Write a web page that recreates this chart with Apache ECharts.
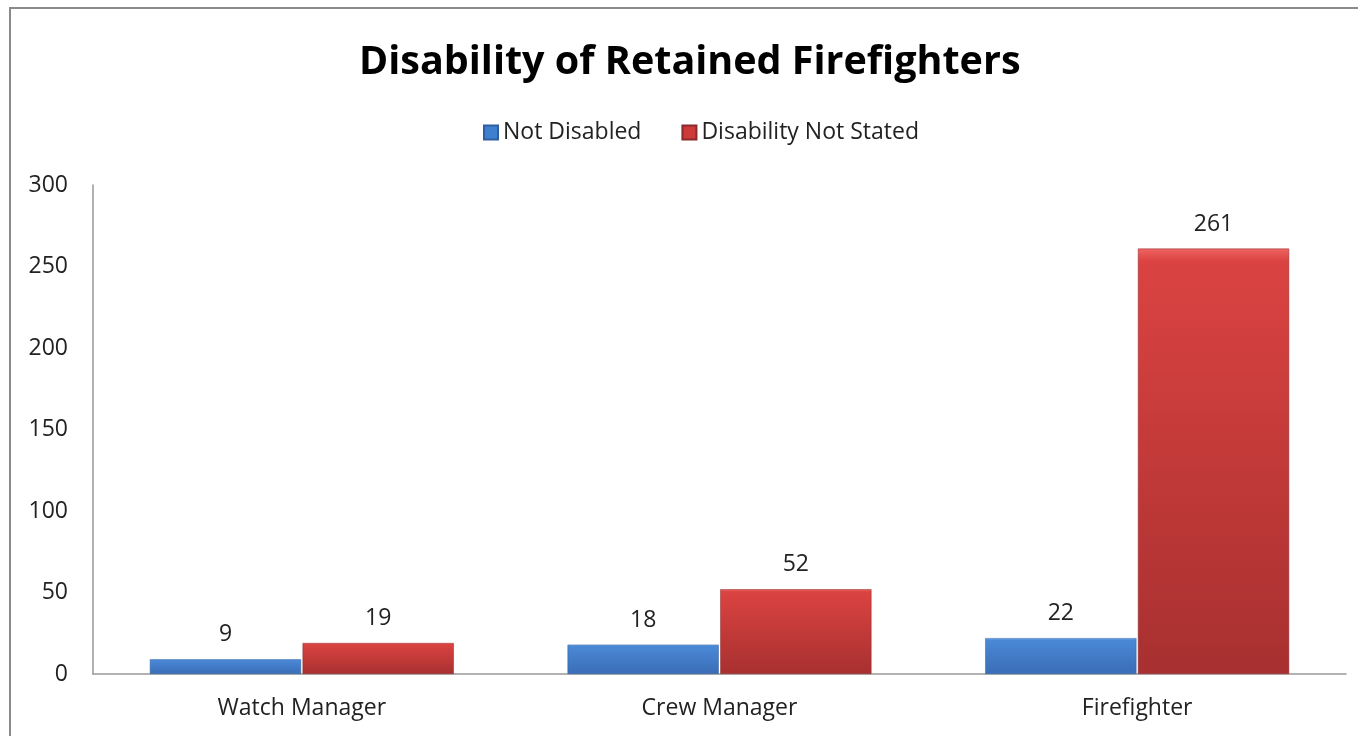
<!DOCTYPE html>
<html>
<head>
<meta charset="utf-8">
<script src="https://cdn.jsdelivr.net/npm/echarts@6/dist/echarts.min.js"></script>
<style>html,body{margin:0;padding:0;background:#fff;}#c{width:1358px;height:736px;}</style>
</head>
<body>
<div id="c"></div>
<script>
const categories = ['Watch Manager', 'Crew Manager', 'Firefighter'];
const notDisabled = [9, 18, 22];
const notStated = [19, 52, 261];
const seriesNames = ['Not Disabled', 'Disability Not Stated'];
const yTicks = [0, 50, 100, 150, 200, 250, 300];

const chart = echarts.init(document.getElementById('c'));
const blue = new echarts.graphic.LinearGradient(0, 0, 0, 1, [
  {offset: 0, color: '#6aa8ee'}, {offset: 0.06, color: '#4a88d6'}, {offset: 1, color: '#3a6db5'}]);
const red = new echarts.graphic.LinearGradient(0, 0, 0, 1, [
  {offset: 0, color: '#f06462'}, {offset: 0.03, color: '#da4341'}, {offset: 1, color: '#a83030'}]);
const labelStyle = {show: true, position: 'top', distance: 13, color: '#222', fontSize: 23, fontFamily: 'Open Sans'};
chart.setOption({
  animation: false,
  title: {text: 'Disability of Retained Firefighters', left: 354, top: 38,
    textStyle: {fontSize: 39.5, fontWeight: 'bold', color: '#000', fontFamily: 'Open Sans'}},
  legend: {top: 116, left: 478, itemWidth: 14, itemHeight: 14, itemGap: 40,
    textStyle: {fontSize: 23, color: '#222', fontFamily: 'Open Sans'},
    data: [{name: seriesNames[0], icon: 'rect', itemStyle: {color: '#3f7fd0'}},
           {name: seriesNames[1], icon: 'rect', itemStyle: {color: '#cc3b3a'}}]},
  graphic: [{type: 'rect', shape: {x: 10, y: 8, width: 1360, height: 740},
    style: {fill: 'none', stroke: '#8a8a8a', lineWidth: 2}, z: -1}],
  grid: {left: 93, right: 12, top: 185, bottom: 62, containLabel: false},
  xAxis: {type: 'category', data: categories,
    axisLine: {lineStyle: {color: '#999', width: 1.5}}, axisTick: {show: false},
    axisLabel: {fontSize: 23, color: '#222', margin: 23, fontFamily: 'Open Sans'}},
  yAxis: {type: 'value', min: 0, max: 300, interval: 50,
    axisLine: {show: true, lineStyle: {color: '#999', width: 1.5}}, axisTick: {show: false},
    splitLine: {show: false},
    axisLabel: {fontSize: 23, color: '#222', margin: 25, fontFamily: 'Open Sans'}},
  series: [
    {name: seriesNames[0], type: 'bar', data: notDisabled, barWidth: '36.2%', barGap: '1%',
      itemStyle: {color: blue, borderColor: '#2f5f9e', borderWidth: 0.5}, label: labelStyle},
    {name: seriesNames[1], type: 'bar', data: notStated, barWidth: '36.2%', barGap: '1%',
      itemStyle: {color: red, borderColor: '#8a2a2a', borderWidth: 0.5}, label: labelStyle}
  ]
});
</script>
</body>
</html>
